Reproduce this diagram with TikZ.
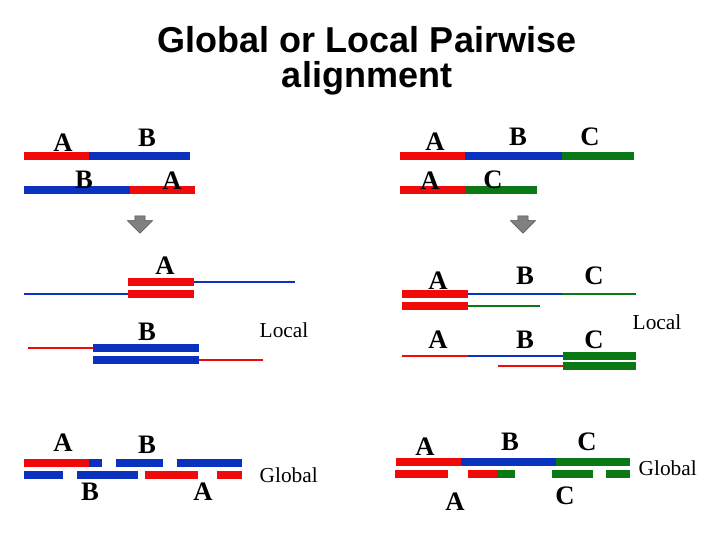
\documentclass[tikz,border=0pt]{standalone}
\usepackage{fontspec}
\setmainfont{Liberation Serif}
\newfontfamily\titlefont{Liberation Sans}
\definecolor{segred}{RGB}{240,10,10}
\definecolor{segblue}{RGB}{10,50,190}
\definecolor{seggreen}{RGB}{10,120,20}
\tikzset{
    seg/.style={line width=5.5pt},
    thin seg/.style={line width=0.8pt},
    lab/.style={font=\fontsize{20}{20}\selectfont\bfseries},
    kind/.style={font=\fontsize{16}{16}\selectfont, anchor=west},
    titleline/.style={font=\titlefont\bfseries\fontsize{27}{27}\selectfont, inner sep=0pt},
    downarrow/.style={single arrow, draw=black!70, fill=black!50, minimum height=13pt,
        minimum width=19pt, single arrow head extend=2.5pt, shape border rotate=270, inner sep=1.5pt},
}
\usetikzlibrary{shapes.arrows}
\begin{document}
\begin{tikzpicture}[x=0.75pt,y=-0.75pt]
    \useasboundingbox (0,0) rectangle (720,540);

    % title
    \node[titleline] (title1) at (367,40) {Global or Local Pairwise};
    \node[titleline] (title2) at (367,78) {alignment};

    % input sequences, left
    \draw[seg,segred] (24,156) -- (89,156);
    \draw[seg,segblue] (89,156) -- (190,156);
    \draw[seg,segblue] (24,190) -- (130,190);
    \draw[seg,segred] (130,190) -- (195,190);
    \node[lab] (la1) at (63,143) {A};
    \node[lab] (lb1) at (147,138) {B};
    \node[lab] (lb2) at (84,180) {B};
    \node[lab] (la2) at (172,181) {A};

    % input sequences, right
    \draw[seg,segred] (400,156) -- (465,156);
    \draw[seg,segblue] (465,156) -- (562,156);
    \draw[seg,seggreen] (562,156) -- (634,156);
    \draw[seg,segred] (400,190) -- (465,190);
    \draw[seg,seggreen] (465,190) -- (537,190);
    \node[lab] (ra1) at (435,142) {A};
    \node[lab] (rb1) at (518,137) {B};
    \node[lab] (rc1) at (590,137) {C};
    \node[lab] (ra2) at (430,181) {A};
    \node[lab] (rc2) at (493,180) {C};

    \node[downarrow] (arrL) at (140,222) {};
    \node[downarrow] (arrR) at (523,222) {};

    % local, left
    \node[lab] (lla) at (165,266) {A};
    \draw[seg,segred] (128,282) -- (194,282);
    \draw[thin seg,segblue] (194,282) -- (295,282);
    \draw[seg,segred] (128,294) -- (194,294);
    \draw[thin seg,segblue] (24,294) -- (128,294);
    \node[lab] (llb) at (147,332) {B};
    \draw[seg,segblue] (93,348) -- (199,348);
    \draw[thin seg,segred] (28,348) -- (93,348);
    \draw[seg,segblue] (93,360) -- (199,360);
    \draw[thin seg,segred] (199,360) -- (263,360);
    \node[kind] (llocal) at (255,330) {Local};

    % global, left
    \draw[seg,segred] (24,463) -- (89,463);
    \draw[seg,segblue] (89,463) -- (102,463);
    \draw[seg,segblue] (116,463) -- (163,463);
    \draw[seg,segblue] (177,463) -- (242,463);
    \draw[seg,segblue] (24,475) -- (63,475);
    \draw[seg,segblue] (77,475) -- (138,475);
    \draw[seg,segred] (145,475) -- (198,475);
    \draw[seg,segred] (217,475) -- (242,475);
    \node[lab] (lga1) at (63,443) {A};
    \node[lab] (lgb1) at (147,445) {B};
    \node[lab] (lgb2) at (90,492) {B};
    \node[lab] (lga2) at (203,492) {A};
    \node[kind] (lglobal) at (255,475) {Global};

    % local, right
    \node[lab] (rla1) at (438,281) {A};
    \node[lab] (rlb1) at (525,276) {B};
    \node[lab] (rlc1) at (594,276) {C};
    \draw[seg,segred] (402,294) -- (468,294);
    \draw[thin seg,segblue] (468,294) -- (562,294);
    \draw[thin seg,seggreen] (562,294) -- (636,294);
    \draw[seg,segred] (402,306) -- (468,306);
    \draw[thin seg,seggreen] (468,306) -- (540,306);
    \node[lab] (rla2) at (438,340) {A};
    \node[lab] (rlb2) at (525,340) {B};
    \node[lab] (rlc2) at (594,340) {C};
    \draw[thin seg,segred] (402,356) -- (468,356);
    \draw[thin seg,segblue] (468,356) -- (563,356);
    \draw[seg,seggreen] (563,356) -- (636,356);
    \draw[thin seg,segred] (498,366) -- (563,366);
    \draw[seg,seggreen] (563,366) -- (636,366);
    \node[kind] (rlocal) at (628,322) {Local};

    % global, right
    \draw[seg,segred] (396,462) -- (461,462);
    \draw[seg,segblue] (461,462) -- (556,462);
    \draw[seg,seggreen] (556,462) -- (630,462);
    \draw[seg,segred] (395,474) -- (448,474);
    \draw[seg,segred] (468,474) -- (497,474);
    \draw[seg,seggreen] (497,474) -- (515,474);
    \draw[seg,seggreen] (552,474) -- (593,474);
    \draw[seg,seggreen] (606,474) -- (630,474);
    \node[lab] (rga1) at (425,447) {A};
    \node[lab] (rgb1) at (510,442) {B};
    \node[lab] (rgc1) at (587,442) {C};
    \node[lab] (rga2) at (455,502) {A};
    \node[lab] (rgc2) at (565,496) {C};
    \node[kind] (rglobal) at (634,468) {Global};
\end{tikzpicture}
\end{document}
